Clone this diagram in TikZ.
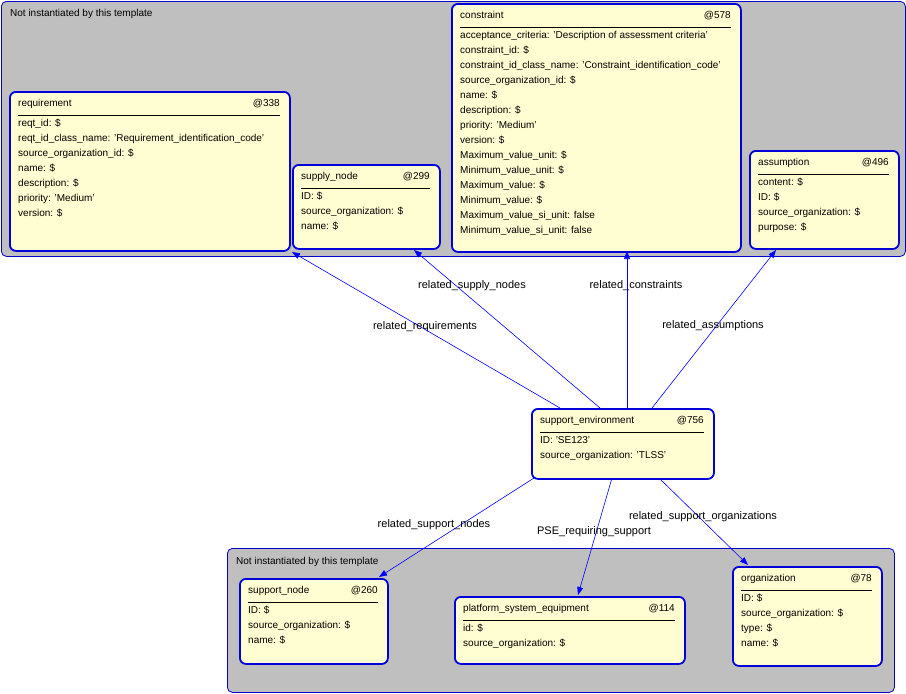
\documentclass[tikz,border=0pt]{standalone}
\usepackage{fontspec}
\setmainfont{Liberation Sans}
\usetikzlibrary{arrows.meta}
\begin{document}
\begin{tikzpicture}[x=1pt,y=-1pt,
  grp/.style={draw=blue!80!black,fill=black!25,rounded corners=5pt,line width=0.8pt},
  cls/.style={draw=blue!85!black,fill=yellow!18,rounded corners=6pt,line width=1.8pt},
  ttl/.style={anchor=base west,inner sep=0,font=\fontsize{10}{12}\selectfont},
  fld/.style={anchor=north west,inner sep=0,align=left,font=\fontsize{10}{15}\selectfont},
  lbl/.style={font=\fontsize{11}{13}\selectfont,inner sep=1pt},
  arr/.style={draw=blue,line width=0.6pt,-{Triangle[length=8pt,width=6pt]}}]
\useasboundingbox (0,0) rectangle (906,694);
\node[grp,minimum width=904,minimum height=255,anchor=north west] (g1) at (1,1) {};
\node[ttl] at (10,16) {Not instantiated by this template};
\node[grp,minimum width=667,minimum height=144,anchor=north west] (g2) at (227,548) {};
\node[ttl] at (236,564) {Not instantiated by this template};
\newcommand{\clsbox}[8]{%
  \node[cls,minimum width=#4-#2,minimum height=#5-#3,anchor=north west] (#1) at (#2,#3) {};
  \node[ttl] at (#2+9,#3+15) {#6};
  \node[ttl,anchor=base east] at (#4-9,#3+15) {#7};
  \draw[line width=0.6pt] (#2+9,#3+24) -- (#4-9,#3+24);
  \node[fld] at (#2+9,#3+28) {#8};
}
\clsbox{req}{9}{91}{289}{250}{requirement}{@338}{reqt\_id: \$\\reqt\_id\_class\_name: 'Requirement\_identification\_code'\\source\_organization\_id: \$\\name: \$\\description: \$\\priority: 'Medium'\\version: \$}
\clsbox{sup}{292}{164}{439}{248}{supply\_node}{@299}{ID: \$\\source\_organization: \$\\name: \$}
\clsbox{con}{451}{3}{740}{251}{constraint}{@578}{acceptance\_criteria: 'Description of assessment criteria'\\constraint\_id: \$\\constraint\_id\_class\_name: 'Constraint\_identification\_code'\\source\_organization\_id: \$\\name: \$\\description: \$\\priority: 'Medium'\\version: \$\\Maximum\_value\_unit: \$\\Minimum\_value\_unit: \$\\Maximum\_value: \$\\Minimum\_value: \$\\Maximum\_value\_si\_unit: false\\Minimum\_value\_si\_unit: false}
\clsbox{ass}{749}{150}{898}{248}{assumption}{@496}{content: \$\\ID: \$\\source\_organization: \$\\purpose: \$}
\clsbox{se}{531}{408}{713}{478}{support\_environment}{@756}{ID: 'SE123'\\source\_organization: 'TLSS'}
\clsbox{sn}{239}{578}{387}{663}{support\_node}{@260}{ID: \$\\source\_organization: \$\\name: \$}
\clsbox{pse}{454}{596}{684}{663}{platform\_system\_equipment}{@114}{id: \$\\source\_organization: \$}
\clsbox{org}{732}{566}{881}{665}{organization}{@78}{ID: \$\\source\_organization: \$\\type: \$\\name: \$}
\coordinate (s1) at (560,408); \coordinate (t1) at (292,252);
\coordinate (s2) at (600,408); \coordinate (t2) at (414,250);
\coordinate (s3) at (627,408); \coordinate (t3) at (627,251);
\coordinate (s4) at (652,408); \coordinate (t4) at (776,250);
\coordinate (s5) at (534,478); \coordinate (t5) at (379,577);
\coordinate (s6) at (612,478); \coordinate (t6) at (578,595);
\coordinate (s7) at (659,478); \coordinate (t7) at (748,565);
\draw[arr] (s1) -- (t1);
\draw[arr] (s2) -- (t2);
\draw[arr] (s3) -- (t3);
\draw[arr] (s4) -- (t4);
\draw[arr] (s5) -- (t5);
\draw[arr] (s6) -- (t6);
\draw[arr] (s7) -- (t7);
\node[lbl] at (425,327) {related\_requirements};
\node[lbl] at (472,286) {related\_supply\_nodes};
\node[lbl] at (636,286) {related\_constraints};
\node[lbl] at (713,326) {related\_assumptions};
\node[lbl] at (434,525) {related\_support\_nodes};
\node[lbl] at (594,532) {PSE\_requiring\_support};
\node[lbl] at (703,517) {related\_support\_organizations};
\end{tikzpicture}
\end{document}
